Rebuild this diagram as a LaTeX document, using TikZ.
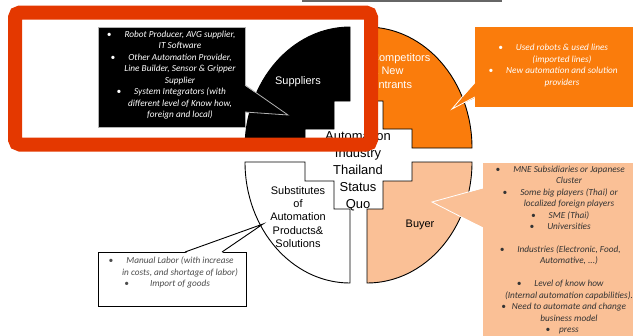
\documentclass[tikz,border=0pt]{standalone}
\usepackage{fontspec}
\setmainfont{Liberation Sans}
\newfontfamily\notefont{Carlito}
\usepackage{tikz}
\usetikzlibrary{positioning}

\definecolor{quadorange}{RGB}{250,124,12}
\definecolor{quadpeach}{RGB}{250,192,150}
\definecolor{framered}{RGB}{228,56,0}

\newcommand{\blt}[1][13bp]{\llap{\textbullet\hspace{#1}}}

\begin{document}
\begin{tikzpicture}[x=1bp, y=-1bp,
	quad/.style={draw=black, line width=0.9bp},
	quadlabel/.style={font=\fontsize{11}{13.4}\selectfont, align=center, inner sep=0pt},
	notetext/.style={font=\notefont\itshape\fontsize{9.3}{11.5}\selectfont, align=center, inner sep=0pt}]
	\useasboundingbox (0,0) rectangle (633,335);
	% the four quadrants
	\filldraw[quad, fill=black] (350,27) arc[start angle=90, end angle=180, x radius=105bp, y radius=121bp]
		-- (305,148) -- (305,129) -- (334,129) -- (334,101) -- (350,101) -- cycle;
	\filldraw[quad, fill=quadorange] (472,148) arc[start angle=0, end angle=90, x radius=105bp, y radius=121bp]
		-- (367,101) -- (383,101) -- (383,129) -- (412,129) -- (412,148) -- cycle;
	\filldraw[quad, fill=quadpeach] (367,283) arc[start angle=270, end angle=360, x radius=105bp, y radius=121bp]
		-- (412,162) -- (412,181) -- (383,181) -- (383,209) -- (367,209) -- cycle;
	\filldraw[quad, fill=white] (245,162) arc[start angle=180, end angle=270, x radius=105bp, y radius=121bp]
		-- (350,209) -- (334,209) -- (334,181) -- (305,181) -- (305,162) -- cycle;
	% labels
	\node[quadlabel, text=white] (suppliers) at (298,82) {Suppliers};
	\node[quadlabel, text=white, align=left, anchor=west] (competitors) at (371,71) {Competitors\\\& New\\Entrants};
	\node[quadlabel] (buyer) at (420,225) {Buyer};
	\node[quadlabel] (substitutes) at (298,217) {Substitutes\\of\\Automation\\Products\&\\Solutions};
	\node[font=\fontsize{13}{17}\selectfont, align=center, inner sep=0pt] (statusquo) at (358,171)
		{Automation\\Industry\\Thailand\\Status\\Quo};
	% suppliers note
	\node[fill=black, draw=gray!60, line width=0.8bp, minimum width=147bp, minimum height=100bp] (supbox) at (171.5,77) {};
	\coordinate (suptip) at (288,115);
	\fill[black] ([xshift=-1.5bp, yshift=-8bp]supbox.east) -- (suptip) -- ([xshift=-1.5bp, yshift=-35bp]supbox.east) -- cycle;
	\draw[gray!60, line width=0.8bp] ([xshift=-0.4bp, yshift=-8bp]supbox.east) -- (suptip) -- ([xshift=-0.4bp, yshift=-35bp]supbox.east);
	\node[notetext, text=white] (suptext) at (180,75) {\blt Robot Producer, AVG supplier,\\ IT Software\\
		\blt Other Automation Provider,\\ Line Builder, Sensor \& Gripper\\ Supplier\\
		\blt System Integrators  (with\\ different level of Know how,\\ foreign and local)};
	% competitors note
	\node[fill=quadorange, minimum width=160bp, minimum height=80bp] (compbox) at (555,66.5) {};
	\coordinate (comptip) at (452,109);
	\fill[quadorange] ([xshift=1.5bp, yshift=-15.5bp]compbox.west) -- (comptip) -- ([xshift=1.5bp, yshift=-30.5bp]compbox.west) -- cycle;
	\draw[white, line width=0.8bp] ([yshift=-15.5bp]compbox.west) -- (comptip) -- ([yshift=-30.5bp]compbox.west);
	\node[notetext, text=white] (comptext) at (562,65.5) {\blt Used robots  \& used lines\\ (imported lines)\\
		\blt New automation and solution\\ providers};
	% buyer note
	\node[fill=quadpeach, minimum width=152bp, minimum height=174bp] (buybox) at (559,250) {};
	\coordinate (buytip) at (432,202);
	\fill[quadpeach] ([xshift=1.5bp, yshift=62bp]buybox.west) -- (buytip) -- ([xshift=1.5bp, yshift=22bp]buybox.west) -- cycle;
	\draw[white, line width=0.8bp] ([yshift=62bp]buybox.west) -- (buytip) -- ([yshift=22bp]buybox.west);
	\node[notetext, text=black!80] (buytext) at (569,250) {\blt MNE Subsidiaries or Japanese\\ Cluster\\
		\blt Some big players (Thai) or\\ localized foreign players\\ \blt SME (Thai)\\ \blt Universities\\[11.5bp]
		\blt Industries (Electronic, Food,\\ Automative, ...)\\[11.5bp]
		\blt Level of know how\\ (Internal automation capabilities).\\ \blt[6bp]Need to automate and change\\
		business model\\ \blt[9bp]press};
	% substitutes note
	\node[fill=white, draw=black, line width=0.9bp, minimum width=148bp, minimum height=54bp] (subbox) at (172,279) {};
	\coordinate (subtip) at (263,224);
	\fill[white] ([xshift=13bp, yshift=-1.5bp]subbox.north) -- (subtip) -- ([xshift=50bp, yshift=-1.5bp]subbox.north) -- cycle;
	\draw[black, line width=0.9bp] ([xshift=13bp, yshift=-0.45bp]subbox.north) -- (subtip) -- ([xshift=50bp, yshift=-0.45bp]subbox.north);
	\node[notetext, text=black!70] (subtext) at (180,272.5) {\blt Manual Labor (with increase\\
		in costs, and shortage of labor)\\ \blt[21bp]Import of goods};
	% red frame and top strip
	\draw[framered, line width=14bp, rounded corners=5bp] (15,12.5) rectangle (371,144.5);
	\draw[black!60, line width=1.5bp] (302,1) -- (502,1);
\end{tikzpicture}
\end{document}
